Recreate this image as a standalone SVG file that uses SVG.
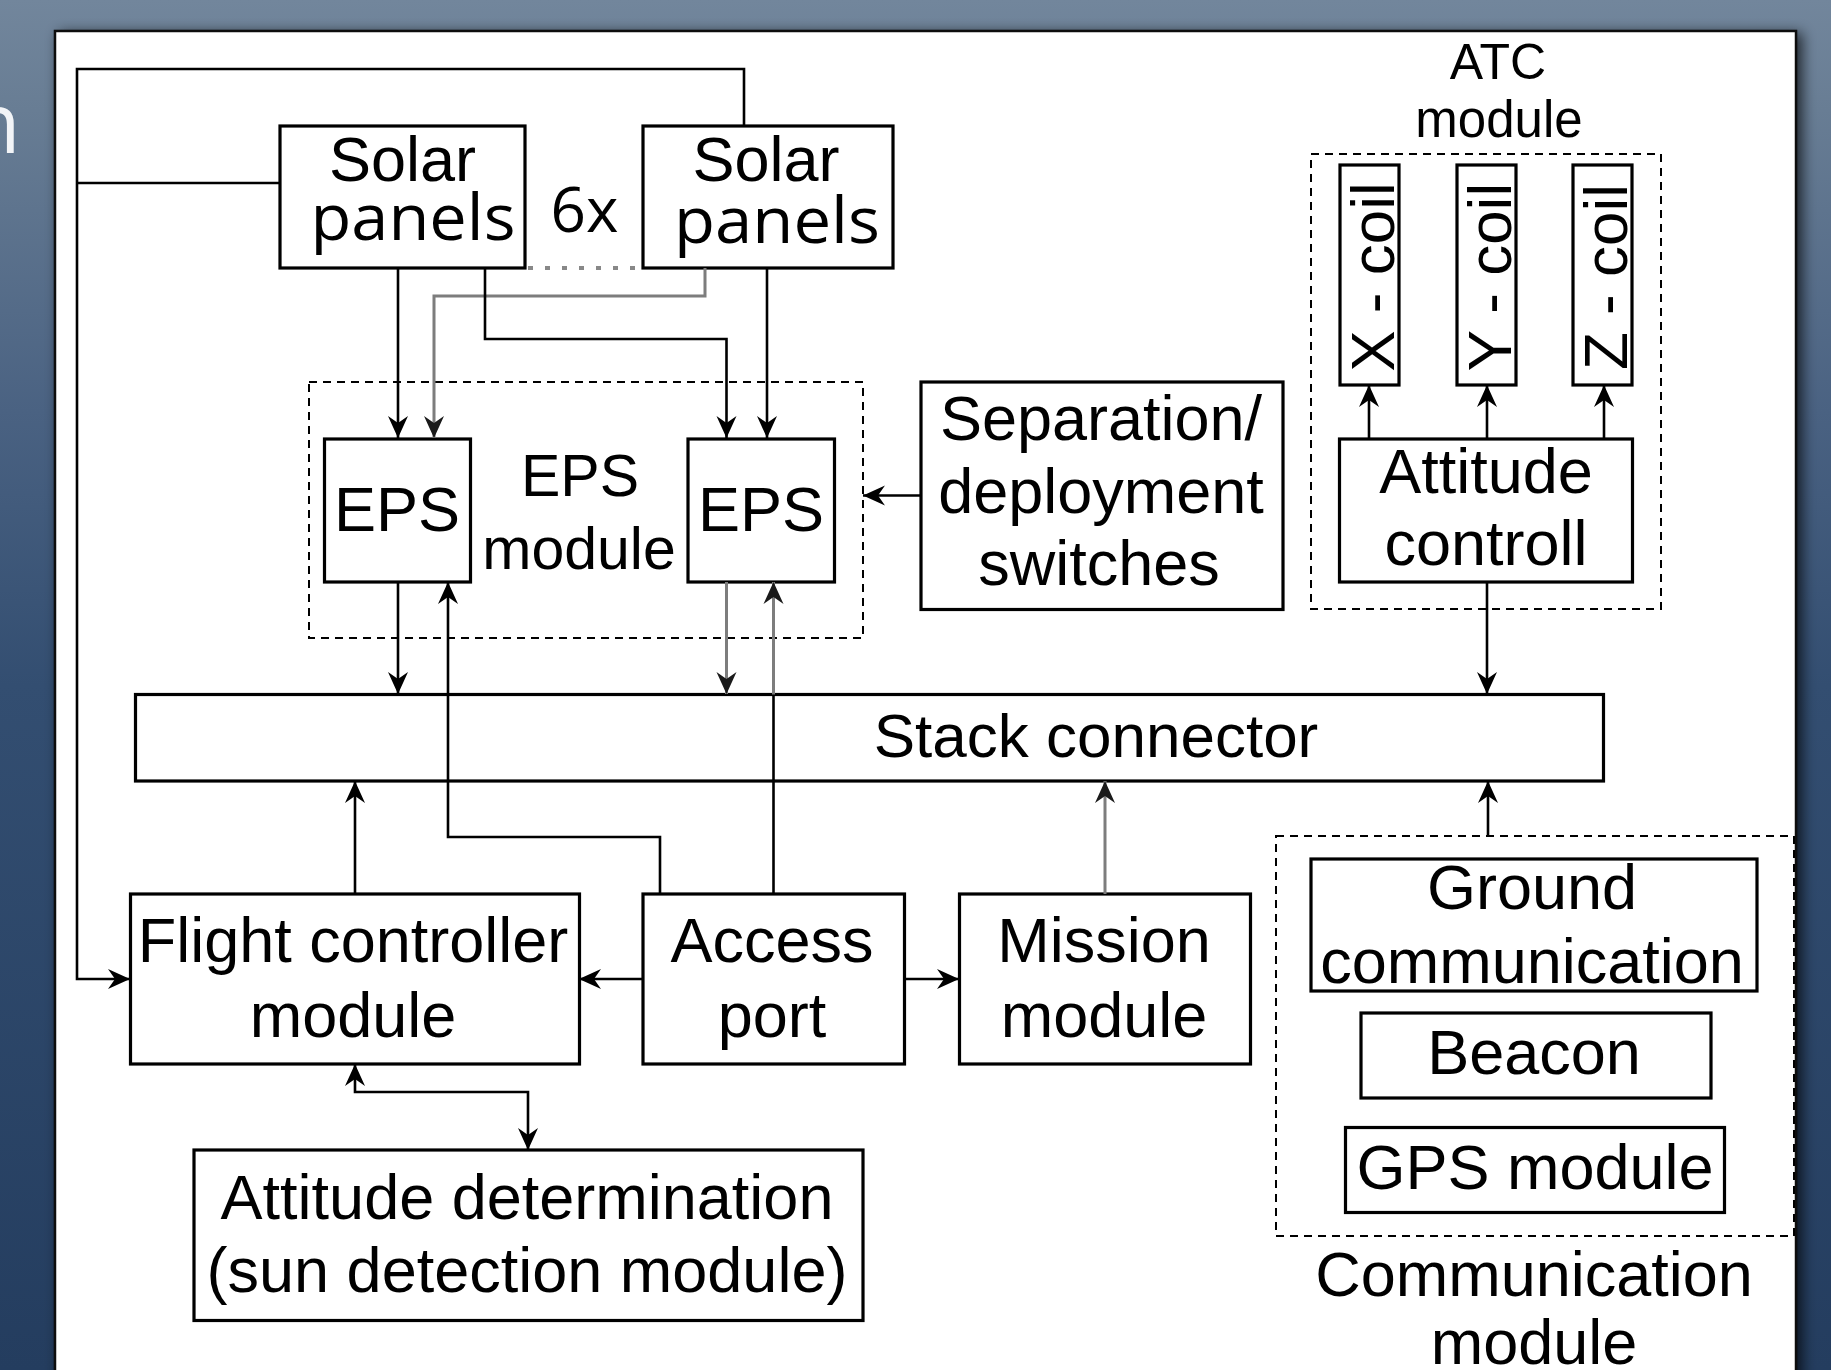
<svg xmlns="http://www.w3.org/2000/svg" width="1831" height="1370" viewBox="0 0 1831 1370">
  <defs>
    <linearGradient id="bg" x1="0" y1="0" x2="0" y2="1">
      <stop offset="0" stop-color="#72869c"/>
      <stop offset="0.08" stop-color="#687d94"/>
      <stop offset="0.3" stop-color="#4a6282"/>
      <stop offset="0.5" stop-color="#334e71"/>
      <stop offset="1" stop-color="#243d5f"/>
    </linearGradient>
    <filter id="shadow" x="-5%" y="-5%" width="110%" height="110%">
      <feGaussianBlur in="SourceAlpha" stdDeviation="7"/>
      <feOffset dx="5" dy="3"/>
      <feComponentTransfer><feFuncA type="linear" slope="0.7"/></feComponentTransfer>
      <feMerge><feMergeNode/><feMergeNode in="SourceGraphic"/></feMerge>
    </filter>
    <marker id="ah" viewBox="-24 -12 26 24" refX="0" refY="0" markerWidth="26" markerHeight="24" markerUnits="userSpaceOnUse" orient="auto-start-reverse">
      <path d="M0,0 L-22,-10 L-15,0 L-22,10 Z" fill="#000"/>
    </marker>
    <marker id="ahg" viewBox="-24 -12 26 24" refX="0" refY="0" markerWidth="26" markerHeight="24" markerUnits="userSpaceOnUse" orient="auto-start-reverse">
      <path d="M0,0 L-22,-10 L-15,0 L-22,10 Z" fill="#1a1a1a"/>
    </marker>
    <style>
      .box { fill: #fff; stroke: #000; stroke-width: 3.2; }
      .grp { fill: none; stroke: #000; stroke-width: 2; stroke-dasharray: 8 6; }
      .t { font-family: "Liberation Sans", Arial, sans-serif; font-size: 63px; fill: #000; text-anchor: middle; }
      .h { font-family: "Open Sans", "Noto Sans", sans-serif; font-size: 64px; fill: #000; text-anchor: middle; }
      .ln { fill: none; stroke: #000; stroke-width: 2.6; }
      .gl { fill: none; stroke: #7d7d7d; stroke-width: 3; }
      .arr { marker-end: url(#ah); }
      .arrg { marker-end: url(#ahg); }
    </style>
  </defs>

  <!-- slide background -->
  <rect x="0" y="0" width="1831" height="1370" fill="url(#bg)"/>
  <text x="-31" y="153" font-family="Open Sans, Noto Sans, sans-serif" font-size="84" fill="#f2f4f7">n</text>

  <!-- diagram sheet -->
  <rect x="55" y="31" width="1741" height="1400" fill="#fff" stroke="#111" stroke-width="2.5" filter="url(#shadow)"/>

  <!-- group outlines -->
  <g id="eps-module">
    <rect class="grp" x="309" y="382" width="554" height="256"/>
    <text class="t" x="580" y="496" style="font-size:59px">EPS</text>
    <text class="t" x="579" y="569" style="font-size:59px">module</text>
  </g>
  <g id="atc-module">
    <rect class="grp" x="1311" y="154" width="350" height="455"/>
    <text class="t" x="1498" y="79" style="font-size:50px">ATC</text>
    <text class="t" x="1499" y="137" style="font-size:51px">module</text>
  </g>
  <g id="communication-module">
    <rect class="grp" x="1276" y="836" width="518" height="400"/>
    <text class="t" x="1534" y="1296">Communication</text>
    <text class="t" x="1534" y="1364">module</text>
  </g>

  <!-- nodes -->
  <g id="solar-panels-1">
    <rect class="box" x="280" y="126" width="245" height="142"/>
    <text class="t" x="402.5" y="181">Solar</text>
    <text class="h" x="413" y="240" textLength="205" lengthAdjust="spacingAndGlyphs">panels</text>
  </g>
  <g id="solar-panels-count">
    <text class="h" x="584.5" y="232" style="font-size:62px">6x</text>
  </g>
  <g id="solar-panels-2">
    <rect class="box" x="643" y="126" width="250" height="142"/>
    <text class="t" x="766" y="181">Solar</text>
    <text class="h" x="777" y="243" textLength="206" lengthAdjust="spacingAndGlyphs">panels</text>
  </g>
  <g id="eps-1">
    <rect class="box" x="324.5" y="439" width="146" height="143"/>
    <text class="t" x="397" y="531">EPS</text>
  </g>
  <g id="eps-2">
    <rect class="box" x="688" y="439" width="146.5" height="143"/>
    <text class="t" x="761" y="531">EPS</text>
  </g>
  <g id="separation-switches">
    <rect class="box" x="921" y="382" width="362" height="227.5"/>
    <text class="t" x="1101" y="440">Separation/</text>
    <text class="t" x="1101" y="513">deployment</text>
    <text class="t" x="1099" y="585">switches</text>
  </g>
  <g id="x-coil">
    <rect class="box" x="1340" y="165" width="59" height="220"/>
    <text class="t" transform="translate(1394,277) rotate(-90)" style="font-size:62px">X - coil</text>
  </g>
  <g id="y-coil">
    <rect class="box" x="1457" y="165" width="59" height="220"/>
    <text class="t" transform="translate(1511,277) rotate(-90)" style="font-size:62px">Y - coil</text>
  </g>
  <g id="z-coil">
    <rect class="box" x="1573" y="165" width="59" height="220"/>
    <text class="t" transform="translate(1627,277) rotate(-90)" style="font-size:62px">Z - coil</text>
  </g>
  <g id="attitude-control">
    <rect class="box" x="1339.5" y="439" width="293" height="143"/>
    <text class="t" x="1486" y="493">Attitude</text>
    <text class="t" x="1486" y="565">controll</text>
  </g>
  <g id="stack-connector">
    <rect class="box" x="135.5" y="694.5" width="1468" height="86.5"/>
    <text class="t" x="1096" y="757" style="font-size:62px">Stack connector</text>
  </g>
  <g id="flight-controller">
    <rect class="box" x="130.5" y="894" width="449" height="170"/>
    <text class="t" x="353" y="962">Flight controller</text>
    <text class="t" x="353" y="1036.5">module</text>
  </g>
  <g id="access-port">
    <rect class="box" x="643" y="894" width="261.5" height="170"/>
    <text class="t" x="772" y="962">Access</text>
    <text class="t" x="772" y="1036.5">port</text>
  </g>
  <g id="mission-module">
    <rect class="box" x="959.5" y="894" width="291" height="170"/>
    <text class="t" x="1104" y="962">Mission</text>
    <text class="t" x="1104" y="1036.5">module</text>
  </g>
  <g id="attitude-determination">
    <rect class="box" x="194" y="1150" width="669" height="170.5"/>
    <text class="t" x="527" y="1219">Attitude determination</text>
    <text class="t" x="527" y="1292">(sun detection module)</text>
  </g>
  <g id="ground-communication">
    <rect class="box" x="1311" y="859" width="446" height="132"/>
    <text class="t" x="1532" y="909">Ground</text>
    <text class="t" x="1532" y="983">communication</text>
  </g>
  <g id="beacon">
    <rect class="box" x="1361" y="1013" width="350" height="85"/>
    <text class="t" x="1534" y="1074">Beacon</text>
  </g>
  <g id="gps-module">
    <rect class="box" x="1345.5" y="1127.5" width="379" height="85"/>
    <text class="t" x="1535" y="1188.5">GPS module</text>
  </g>

  <!-- connectors (drawn last: some run across the stack connector) -->
  <g id="connectors">
    <path class="ln arr" d="M744,126 V69 H77 V979 H130"/>
    <path class="ln" d="M280,183 H77"/>
    <path d="M528,268 H640" fill="none" stroke="#888" stroke-width="4" stroke-dasharray="5 12"/>
    <path class="ln arr" d="M398,268 V438"/>
    <path class="gl arrg" d="M705,268 V296 H434 V438"/>
    <path class="ln arr" d="M485,268 V339 H726.5 V438"/>
    <path class="ln arr" d="M767,268 V438"/>
    <path class="ln arr" d="M398,582 V694"/>
    <path class="ln arr" d="M660,894 V837 H448 V582"/>
    <path class="gl arrg" d="M726.5,582 V694"/>
    <path class="ln" d="M773.5,894 V694.5"/>
    <path class="gl arrg" d="M773.5,694.5 V582"/>
    <path class="ln arr" d="M921,495.5 H863"/>
    <path class="ln arr" d="M1369,439 V385"/>
    <path class="ln arr" d="M1487,439 V385"/>
    <path class="ln arr" d="M1604,439 V385"/>
    <path class="ln arr" d="M1487,582 V694"/>
    <path class="ln arr" d="M355,894 V781"/>
    <path class="gl arrg" d="M1105,894 V781"/>
    <path class="ln arr" d="M1488,836 V781"/>
    <path class="ln arr" d="M643,979 H579"/>
    <path class="ln arr" d="M904,979 H959"/>
    <path class="ln arr" d="M355,1064 V1092 H528 V1150" marker-start="url(#ah)"/>
  </g>
</svg>
